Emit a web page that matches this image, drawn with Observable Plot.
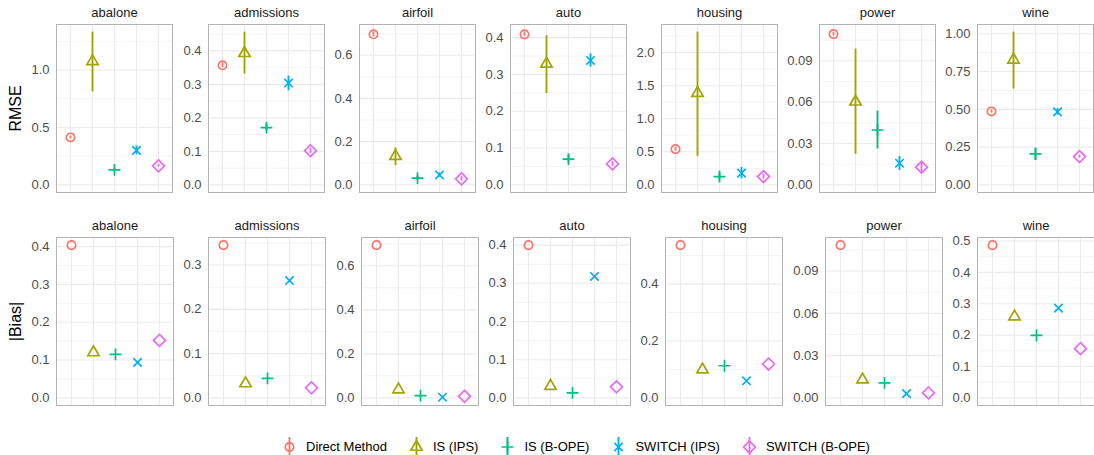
<!DOCTYPE html>
<html>
<head>
<meta charset="utf-8">
<script src="https://cdn.jsdelivr.net/npm/d3@7"></script>
<script src="https://cdn.jsdelivr.net/npm/@observablehq/plot@0.6"></script>
<style>
  body { margin: 0; background: #fff; font-family: "Liberation Sans", Arial, Helvetica, sans-serif; }
  #chart { position: relative; width: 1094px; height: 455px; overflow: hidden; }
  #chart > svg { position: absolute; overflow: visible; }
  .legend { position: absolute; top: 437px; left: 279px; display: flex; align-items: center; font-size: 13px; color: #000; white-space: nowrap; }
  .legend .item { display: flex; align-items: center; margin-right: 19px; }
  .legend .item svg { display: block; }
  .legend .item span { margin-left: 8px; }
</style>
</head>
<body>
<div id="chart"></div>
<script>
// ---------- data ----------
const methods = ["Direct Method", "IS (IPS)", "IS (B-OPE)", "SWITCH (IPS)", "SWITCH (B-OPE)"];
const colors  = ["#F8766D", "#A3A500", "#00BF7D", "#00B0F6", "#E76BF3"];
const datasets = ["abalone", "admissions", "airfoil", "auto", "housing", "power", "wine"];

// RMSE: [mean, lower, upper] per method (order as methods)
const rmseAbalone    = [[0.413, 0.401, 0.425], [1.075, 0.81, 1.33], [0.131, 0.118, 0.144], [0.300, 0.262, 0.338], [0.166, 0.155, 0.177]];
const rmseAdmissions = [[0.357, 0.350, 0.364], [0.393, 0.331, 0.456], [0.171, 0.161, 0.181], [0.304, 0.281, 0.325], [0.102, 0.094, 0.110]];
const rmseAirfoil    = [[0.697, 0.687, 0.707], [0.133, 0.089, 0.171], [0.031, 0.021, 0.041], [0.046, 0.036, 0.056], [0.028, 0.018, 0.038]];
const rmseAuto       = [[0.409, 0.403, 0.415], [0.329, 0.248, 0.405], [0.070, 0.060, 0.080], [0.338, 0.320, 0.356], [0.057, 0.051, 0.063]];
const rmseHousing    = [[0.540, 0.51, 0.57], [1.389, 0.43, 2.31], [0.126, 0.07, 0.18], [0.177, 0.09, 0.265], [0.126, 0.09, 0.16]];
const rmsePower      = [[0.1094, 0.1080, 0.1108], [0.0603, 0.0222, 0.0985], [0.0398, 0.0260, 0.0536], [0.0157, 0.0105, 0.0206], [0.0128, 0.0084, 0.0169]];
const rmseWine       = [[0.486, 0.476, 0.496], [0.828, 0.634, 1.011], [0.205, 0.161, 0.243], [0.483, 0.462, 0.505], [0.187, 0.177, 0.197]];

// |Bias| per method
const biasAbalone    = [0.404, 0.120, 0.115, 0.094, 0.152];
const biasAdmissions = [0.345, 0.0325, 0.044, 0.265, 0.0226];
const biasAirfoil    = [0.694, 0.0376, 0.0104, 0.003, 0.007];
const biasAuto       = [0.400, 0.031, 0.013, 0.318, 0.029];
const biasHousing    = [0.537, 0.099, 0.113, 0.060, 0.119];
const biasPower      = [0.1084, 0.0129, 0.0106, 0.0030, 0.0035];
const biasWine       = [0.487, 0.259, 0.199, 0.286, 0.157];

// y tick labels per panel
const rmseTicks = [
  [0, 0.5, 1.0], [0, 0.1, 0.2, 0.3, 0.4], [0, 0.2, 0.4, 0.6], [0, 0.1, 0.2, 0.3, 0.4],
  [0, 0.5, 1.0, 1.5, 2.0], [0, 0.03, 0.06, 0.09], [0, 0.25, 0.5, 0.75, 1.0]
];
const rmseDecimals = [1, 1, 1, 1, 1, 2, 2];
const biasTicks = [
  [0, 0.1, 0.2, 0.3, 0.4], [0, 0.1, 0.2, 0.3], [0, 0.2, 0.4, 0.6], [0, 0.1, 0.2, 0.3, 0.4],
  [0, 0.2, 0.4], [0, 0.03, 0.06, 0.09], [0, 0.1, 0.2, 0.3, 0.4, 0.5]
];
const biasDecimals = [1, 1, 1, 1, 1, 2, 1];

const rmseAll = [rmseAbalone, rmseAdmissions, rmseAirfoil, rmseAuto, rmseHousing, rmsePower, rmseWine];
const biasAll = [biasAbalone, biasAdmissions, biasAirfoil, biasAuto, biasHousing, biasPower, biasWine];

// ---------- ggplot-like point shapes (pch 1..5) ----------
const K = 0.375;
const sOf = size => Math.sqrt(size / Math.PI) / K;
const symCircle = { draw(ctx, size) { const r = Math.sqrt(size / Math.PI); ctx.moveTo(r, 0); ctx.arc(0, 0, r, 0, 2 * Math.PI); ctx.closePath(); } };
const symTriangle = { draw(ctx, size) { const s = sOf(size); const r = 0.5832 * s, x2 = 0.5051 * s, y2 = 0.2916 * s; ctx.moveTo(0, -r); ctx.lineTo(x2, y2); ctx.lineTo(-x2, y2); ctx.closePath(); } };
const symPlus = { draw(ctx, size) { const h = 0.5303 * sOf(size); ctx.moveTo(-h, 0); ctx.lineTo(h, 0); ctx.moveTo(0, -h); ctx.lineTo(0, h); } };
const symTimes = { draw(ctx, size) { const h = 0.375 * sOf(size); ctx.moveTo(-h, -h); ctx.lineTo(h, h); ctx.moveTo(-h, h); ctx.lineTo(h, -h); } };
const symDiamond = { draw(ctx, size) { const h = 0.5303 * sOf(size); ctx.moveTo(0, -h); ctx.lineTo(h, 0); ctx.lineTo(0, h); ctx.lineTo(-h, 0); ctx.closePath(); } };
const shapes = [symCircle, symTriangle, symPlus, symTimes, symDiamond];

// ---------- layout ----------
const chart = document.getElementById("chart");
const FONT = '"Liberation Sans", Arial, Helvetica, sans-serif';
const panelH = 168;
const row1 = { top: 24, left: [56, 207.5, 358.5, 510, 661, 819, 977], w: 116, title: "RMSE" };
const row2 = { top: 237, left: [56, 208, 360.5, 512.5, 664.5, 824.5, 977], w: 117, title: "|Bias|" };
const MT = 24, MB = 2, MR = 0.5;
const R = 4.2, SW = 1.7;

function minorOf(ticks, domain) {
  const step = ticks[1] - ticks[0];
  const out = [];
  for (let i = -1; i < ticks.length; i++) {
    const v = ticks[0] + (i + 0.5) * step;
    if (v > domain[0] && v < domain[1]) out.push(v);
  }
  return out;
}

function panel(row, col, rows, ticks, decimals, name, withRange) {
  const lo = Math.min(0, d3.min(rows, d => d.lo)), hi = d3.max(rows, d => d.hi);
  const pad = (hi - lo) * 0.05;
  const domain = [lo - pad, hi + pad];
  const ML = col === 0 ? 56 : 40;
  const marks = [
    Plot.gridY(minorOf(ticks, domain), { stroke: "#EDEDED", strokeOpacity: 1, strokeWidth: 0.6 }),
    Plot.gridY(ticks, { stroke: "#EBEBEB", strokeOpacity: 1, strokeWidth: 1.1 }),
    Plot.gridX(methods, { stroke: "#EBEBEB", strokeOpacity: 1, strokeWidth: 1.1 }),
    Plot.frame({ stroke: "#B3B3B3", strokeWidth: 1 }),
    Plot.axisY(ticks, { tickSize: 0, tickPadding: 7, tickFormat: d => d.toFixed(decimals), label: null, fontSize: 13, fill: "#4D4D4D" }),
    Plot.text([name], { frameAnchor: "top", lineAnchor: "middle", dy: -12, text: d => d, fontSize: 13, fill: "#1A1A1A" })
  ];
  if (withRange) {
    marks.push(Plot.ruleX(rows, { x: "method", y1: "lo", y2: "hi", stroke: "method", strokeWidth: 1.9 }));
  }
  marks.push(Plot.dot(rows, { x: "method", y: "value", stroke: "method", symbol: "method", r: R, strokeWidth: SW, fill: "none" }));
  if (col === 0) {
    marks.push(Plot.text([row.title], { frameAnchor: "left", textAnchor: "middle", lineAnchor: "middle", dx: -41, rotate: -90, text: d => d, fontSize: 16, fill: "#000" }));
  }
  const svg = Plot.plot({
    width: ML + row.w + MR,
    height: MT + panelH + MB,
    marginLeft: ML, marginRight: MR, marginTop: MT, marginBottom: MB,
    x: { type: "point", domain: methods, padding: 0.6, axis: null },
    y: { domain, axis: null },
    color: { domain: methods, range: colors },
    symbol: { domain: methods, range: shapes },
    style: { fontFamily: FONT, background: "transparent", overflow: "visible" },
    marks
  });
  svg.style.left = (row.left[col] - ML) + "px";
  svg.style.top = (row.top - MT) + "px";
  chart.appendChild(svg);
}

datasets.forEach((name, i) => {
  const r = rmseAll[i].map((v, j) => ({ method: methods[j], value: v[0], lo: v[1], hi: v[2] }));
  panel(row1, i, r, rmseTicks[i], rmseDecimals[i], name, true);
  const b = biasAll[i].map((v, j) => ({ method: methods[j], value: v, lo: v, hi: v }));
  panel(row2, i, b, biasTicks[i], biasDecimals[i], name, false);
});

// ---------- legend ----------
const legend = document.createElement("div");
legend.className = "legend";
methods.forEach((m, j) => {
  const item = document.createElement("div");
  item.className = "item";
  const key = Plot.plot({
    width: 19, height: 19, margin: 0,
    x: { domain: [methods[j]], type: "point", axis: null },
    y: { domain: [0, 1], axis: null },
    style: { background: "transparent", overflow: "visible" },
    marks: [
      Plot.ruleX([methods[j]], { y1: 0, y2: 1, stroke: colors[j], strokeWidth: 1.9 }),
      Plot.dot([methods[j]], { x: d => d, frameAnchor: "middle", symbol: shapes[j], r: R, stroke: colors[j], strokeWidth: SW, fill: "none" })
    ]
  });
  item.appendChild(key);
  const lab = document.createElement("span");
  lab.textContent = m;
  item.appendChild(lab);
  legend.appendChild(item);
});
chart.appendChild(legend);
</script>
</body>
</html>
